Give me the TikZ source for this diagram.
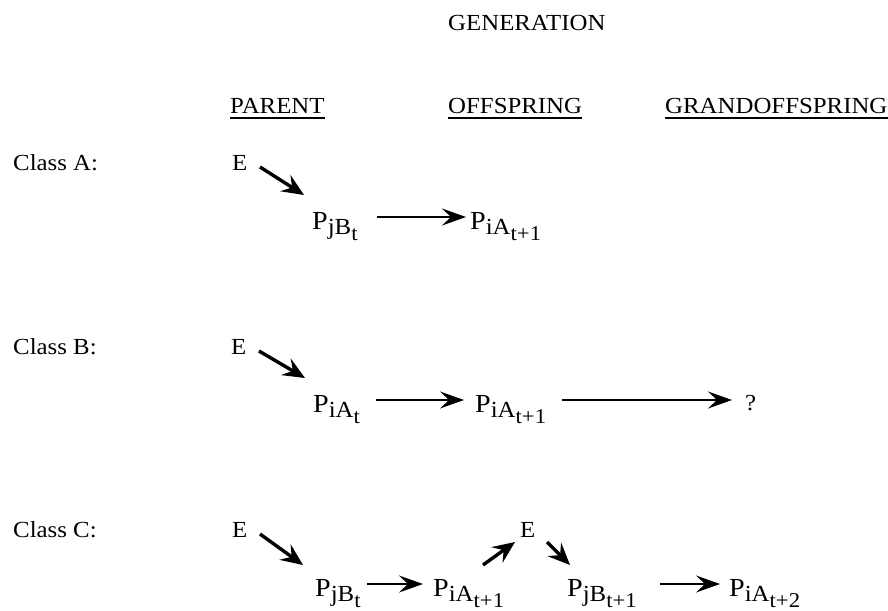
\documentclass[tikz,border=0pt]{standalone}
\usepackage{fontspec}
\setmainfont{Liberation Serif}[FakeStretch=1.08]
\usetikzlibrary{arrows.meta,calc}
\newcommand\Pnode[2]{\fontsize{26}{26}\selectfont P\raisebox{-5pt}{\fontsize{23}{23}\selectfont #1\raisebox{-6pt}{\fontsize{21}{21}\selectfont #2}}}
\begin{document}
\begin{tikzpicture}[x=1pt,y=-1pt,
  txt/.style={inner sep=0pt, anchor=base west, font=\fontsize{23}{23}\selectfont},
  pn/.style={inner sep=0pt, anchor=base west},
  harr/.style={line width=2.3pt, -{Stealth[length=24pt,width=17pt,inset=9pt]}},
  darr/.style={line width=3.4pt, -{Stealth[length=22pt,width=19pt,inset=8pt]}},
  uline/.style={line width=1.6pt}]
\useasboundingbox (0,0) rectangle (888,610);
% headings
\node[txt] (gen) at (448,31) {GENERATION};
\node[txt] (hp) at (230,113) {PARENT};
\node[txt] (ho) at (448,113) {OFFSPRING};
\node[txt] (hg) at (665,113) {GRANDOFFSPRING};
\foreach \n in {hp,ho,hg} \draw[uline] ([yshift=-5pt]\n.base west) -- ([yshift=-5pt]\n.base east);
% class labels
\node[txt] (ca) at (13,170) {Class A:};
\node[txt] (cb) at (13,354) {Class B:};
\node[txt] (cc) at (13,537) {Class C:};
% row A
\node[txt] (ea) at (232,170) {E};
\node[pn] (pa1) at (312,229) {\Pnode{jB}{t}};
\node[pn] (pa2) at (470,229) {\Pnode{iA}{t+1}};
\draw[darr] ($(ea.base west)+(28,-3)$) -- ($(pa1.base west)+(-8,-34)$);
\draw[harr] ($(pa1.base west)+(65,-12)$) -- ($(pa2.base west)+(-4,-12)$);
% row B
\node[txt] (eb) at (231,354) {E};
\node[pn] (pb1) at (313,412) {\Pnode{iA}{t}};
\node[pn] (pb2) at (475,412) {\Pnode{iA}{t+1}};
\node[txt] (q) at (745,410) {?};
\draw[darr] ($(eb.base west)+(28,-3)$) -- ($(pb1.base west)+(-8,-34)$);
\draw[harr] ($(pb1.base west)+(63,-12)$) -- ($(pb2.base west)+(-11,-12)$);
\draw[harr] ($(pb2.base west)+(87,-12)$) -- ($(q.base west)+(-13,-10)$);
% row C
\node[txt] (ec1) at (232,537) {E};
\node[pn] (pc1) at (315,596) {\Pnode{jB}{t}};
\node[pn] (pc2) at (433,596) {\Pnode{iA}{t+1}};
\node[txt] (ec2) at (520,537) {E};
\node[pn] (pc3) at (567,596) {\Pnode{jB}{t+1}};
\node[pn] (pc4) at (729,596) {\Pnode{iA}{t+2}};
\draw[darr] ($(ec1.base west)+(28,-3)$) -- ($(pc1.base west)+(-12,-31)$);
\draw[harr] ($(pc1.base west)+(52,-12)$) -- ($(pc2.base west)+(-10,-12)$);
\draw[darr] ($(pc2.base west)+(50,-31)$) -- ($(ec2.base west)+(-5,5)$);
\draw[darr] ($(ec2.base west)+(27,5)$) -- ($(pc3.base west)+(3,-31)$);
\draw[harr] ($(pc3.base west)+(93,-12)$) -- ($(pc4.base west)+(-9,-12)$);
\end{tikzpicture}
\end{document}
